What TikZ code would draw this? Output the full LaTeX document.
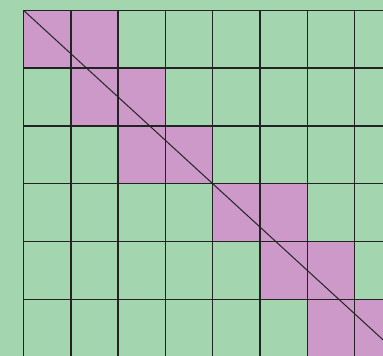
\documentclass[tikz,border=0pt]{standalone}
\definecolor{bggreen}{RGB}{163,213,174}
\definecolor{cellpink}{RGB}{204,153,201}
\definecolor{gridline}{RGB}{35,35,35}
\tikzset{
  pinkcell/.style={fill=cellpink, draw=none},
  gridstroke/.style={draw=gridline, line width=1.4pt},
  diagstroke/.style={draw=gridline, line width=1pt}
}
\begin{document}
\begin{tikzpicture}[x=1pt, y=-1pt]
  \useasboundingbox (0,0) rectangle (383,356);
  \fill[bggreen] (0,0) rectangle (383,356);
  \clip (0,0) rectangle (383,356);
  \begin{scope}[shift={(23.5,10.3)}, x=47.3pt, y=-57.8pt]
    \foreach \r/\c in {0/0,0/1,1/1,1/2,2/2,2/3,3/4,3/5,4/5,4/6,5/6,5/7}{
      \path[pinkcell] (\c,\r) rectangle (\c+1,\r+1);
    }
    \foreach \c in {0,...,8}{
      \draw[gridstroke] (\c,0) -- (\c,6);
    }
    \foreach \r in {0,...,6}{
      \draw[gridstroke] (0,\r) -- (8,\r);
    }
    \coordinate (start) at (0,0);
    \coordinate (end) at (8,6);
    \draw[diagstroke] (start) -- (end);
  \end{scope}
\end{tikzpicture}
\end{document}
